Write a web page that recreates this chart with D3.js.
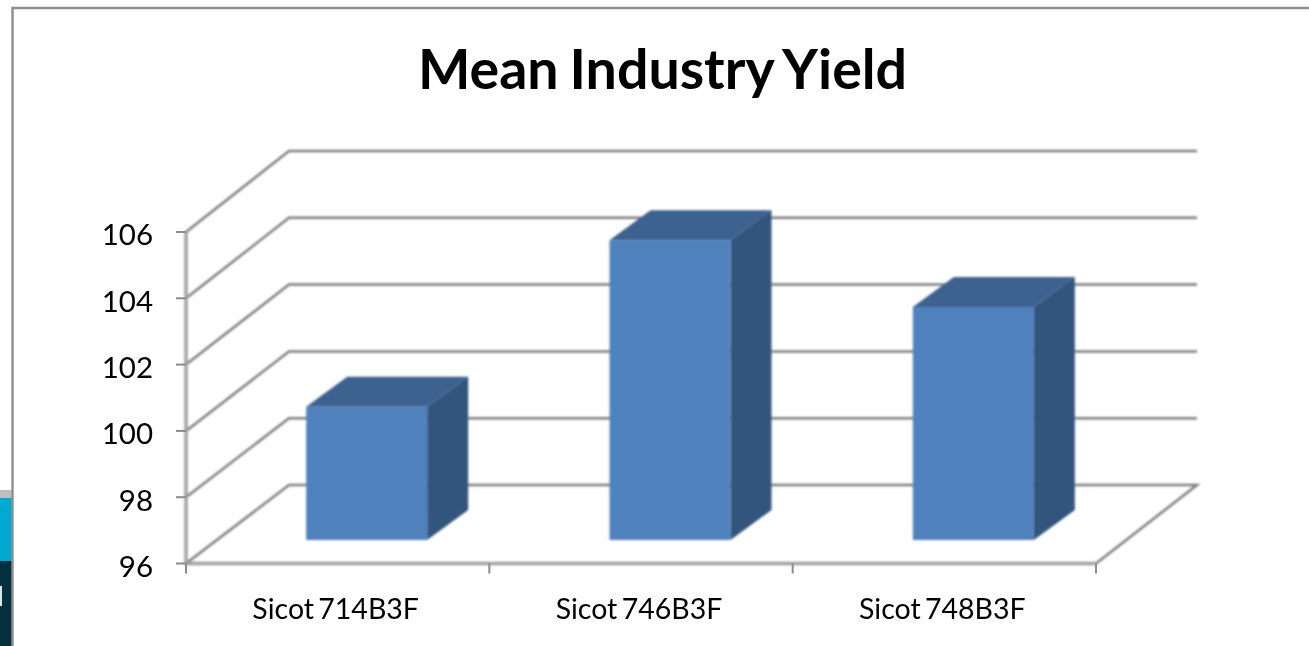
<!DOCTYPE html>
<html><head><meta charset="utf-8">
<script src="https://cdn.jsdelivr.net/npm/d3@7"></script>
<style>html,body{margin:0;padding:0;background:#fff;overflow:hidden}svg{display:block}text{font-family:Lato,"Open Sans",sans-serif;fill:#000}</style>
</head><body><svg id="c" width="1309" height="646"></svg>
<script>
const categories = ["Sicot 714B3F","Sicot 746B3F","Sicot 748B3F"];
const values = [100,105,103];
const yTicks = [96,98,100,102,104,106];
const titleText = "Mean Industry Yield";

const svg = d3.select("#c");
const defs = svg.append("defs");
const addBlur = (id,s) => defs.append("filter").attr("id",id)
  .attr("filterUnits","userSpaceOnUse").attr("x",0).attr("y",0).attr("width",1309).attr("height",646)
  .append("feGaussianBlur").attr("stdDeviation",s);
addBlur("soft",0.8);
addBlur("softText",0.45);

// page fragments behind the chart at the left edge
svg.append("rect").attr("x",0).attr("y",490).attr("width",12).attr("height",8).attr("fill","#bdbdbd");
svg.append("rect").attr("x",0).attr("y",498).attr("width",12).attr("height",63).attr("fill","#00a9d0");
svg.append("rect").attr("x",0).attr("y",561).attr("width",12).attr("height",85).attr("fill","#04303f");
svg.append("rect").attr("x",0).attr("y",586).attr("width",2).attr("height",20).attr("fill","#dfe6e8");

// chart frame
svg.append("path").attr("d","M12.5,646V8H1309").attr("fill","none").attr("stroke","#8f8f8f").attr("stroke-width",2.4);

const y = d3.scaleLinear().domain([96,106]).range([563.5,232]);
const yBack = d3.scaleLinear().domain([96,106]).range([485,151]);
const x = d3.scaleBand().domain(categories).range([186,1096]);
const backDX = 103, barDX = 41, barDY = 30, barShift = 29;
const yBar = d3.scaleLinear().domain([96,106]).range([540,207]);
const barW = 121;
const barX = c => x(c)+x.bandwidth()/2-barW/2+barShift;

const g = svg.append("g").attr("filter","url(#soft)");
// gridlines: side wall + back wall
g.selectAll(".grid").data(yTicks).join("path").attr("class","grid")
 .attr("fill","none").attr("stroke","#7e7e7e").attr("stroke-width",2.5)
 .attr("d",d=> d===96
   ? `M${x.range()[0]},${y(d)}L${x.range()[0]+backDX},${yBack(d)}H${x.range()[1]+backDX-2}L${x.range()[1]},${y(d)}`
   : `M${x.range()[0]},${y(d)}L${x.range()[0]+backDX},${yBack(d)}H${x.range()[1]+backDX-2}`);
// axis lines
g.append("path").attr("fill","none").attr("stroke","#a0a0a0").attr("stroke-width",3.4)
 .attr("d",`M${x.range()[0]},${y(106)}V${y(96)}H${x.range()[1]}`);

// bars
const bars = g.selectAll(".bar").data(categories).join("g").attr("class","bar");
bars.append("path").attr("fill","#3c6290").attr("d",(c,i)=>{const l=barX(c),t=yBar(values[i]);
  return `M${l},${t}l${barDX},${-barDY}h${barW}l${-barDX},${barDY}z`;});
bars.append("path").attr("fill","#31547d").attr("d",(c,i)=>{const r=barX(c)+barW,t=yBar(values[i]),b=yBar(96);
  return `M${r},${t}l${barDX},${-barDY}V${b-barDY}l${-barDX},${barDY}z`;});
bars.append("rect").attr("fill","#4f81bd").attr("x",barX).attr("y",(c,i)=>yBar(values[i]))
  .attr("width",barW).attr("height",(c,i)=>yBar(96)-yBar(values[i]));

// ticks
const ticks = svg.append("g").attr("stroke","#8a8a8a").attr("stroke-width",2);
ticks.selectAll(".ty").data(yTicks).join("line").attr("x1",176).attr("x2",186).attr("y1",d=>y(d)).attr("y2",d=>y(d));
const xEdges = [...categories.map(c=>x(c)), x.range()[1]];
ticks.selectAll(".tx").data(xEdges).join("line").attr("x1",d=>d).attr("x2",d=>d).attr("y1",y(96)).attr("y2",y(96)+10);

// labels
const labels = svg.append("g").attr("filter","url(#softText)");
labels.selectAll(".yl").data(yTicks).join("text").attr("class","yl")
  .attr("x",153).attr("y",d=>y(d)+3).attr("dy","0.35em").attr("text-anchor","end")
  .attr("font-size",29.5).text(d=>d);
labels.selectAll(".xl").data(categories).join("text").attr("class","xl")
  .attr("x",c=>x(c)+x.bandwidth()/2-2).attr("y",619).attr("text-anchor","middle")
  .attr("font-size",28.5).attr("word-spacing",-3).text(c=>c);
labels.append("text").attr("x",662.5).attr("y",89).attr("text-anchor","middle")
  .attr("font-size",55.5).attr("font-weight",700).attr("word-spacing",-2.5).text(titleText);
</script></body></html>
